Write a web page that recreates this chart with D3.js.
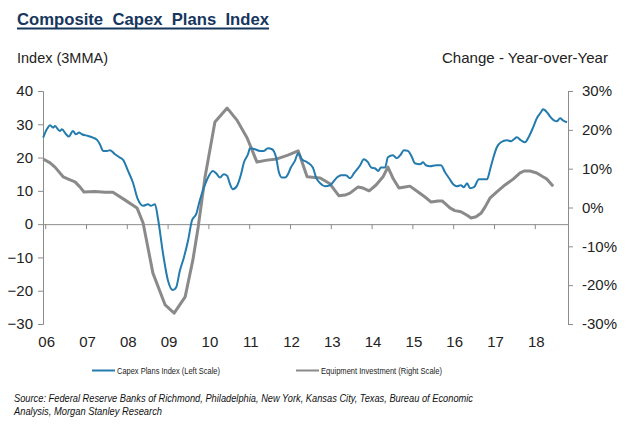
<!DOCTYPE html>
<html>
<head>
<meta charset="utf-8">
<script src="https://cdn.jsdelivr.net/npm/d3@7"></script>
<style>
  html, body { margin: 0; padding: 0; background: #fff; }
  svg { display: block; font-family: "Liberation Sans", Arial, sans-serif; }
</style>
</head>
<body>
<svg id="chart" width="629" height="424"></svg>
<script>
// ---- Data ----
const capexDates = [2005.95,2006.04,2006.12,2006.19,2006.24,2006.31,2006.36,2006.41,2006.51,2006.58,2006.68,2006.75,2006.83,2006.90,
  2007.05,2007.17,2007.27,2007.34,2007.42,2007.51,2007.59,2007.71,2007.83,2007.91,
  2008.03,2008.15,2008.27,2008.40,2008.52,2008.59,2008.69,2008.76,2008.89,
  2009.01,2009.13,2009.21,2009.30,2009.40,2009.50,2009.60,2009.70,2009.79,2009.89,2009.97,
  2010.11,2010.21,2010.28,2010.38,2010.46,2010.53,2010.60,2010.70,2010.80,2010.87,2010.97,
  2011.02,2011.14,2011.26,2011.36,2011.46,2011.56,2011.66,2011.73,2011.80,2011.88,2011.95,
  2012.02,2012.12,2012.20,2012.29,2012.42,2012.56,2012.64,2012.74,2012.86,2012.98,
  2013.15,2013.25,2013.37,2013.47,2013.57,2013.72,2013.81,2013.91,2013.99,
  2014.08,2014.16,2014.23,2014.33,2014.40,2014.52,2014.62,2014.72,2014.79,2014.89,2014.99,
  2015.06,2015.19,2015.26,2015.33,2015.43,2015.58,2015.70,2015.80,2015.90,
  2016.00,2016.09,2016.19,2016.26,2016.34,2016.41,2016.51,2016.63,2016.75,2016.83,2016.90,2016.98,
  2017.07,2017.17,2017.32,2017.42,2017.49,2017.56,2017.66,2017.76,2017.86,2017.96,
  2018.05,2018.15,2018.20,2018.30,2018.37,2018.47,2018.54,2018.62,2018.69,2018.79];
const capexValues = [26,28.5,29.7,29,29.5,28.5,28,28.5,27,26.3,28,27,27.5,27,
  26.5,26,25.3,24,22,22,22.2,21,20,19.3,
  16,12.5,7.5,5.5,6,5.5,6,2,-9,
  -17,-19.8,-19,-14,-10,-5,1.2,3,7.2,11,13.5,
  16,15,14,15,14.5,12,10.5,11.5,15,18.5,21,
  22.8,22.5,22,22,22.8,22.5,20,15.5,14,14,15,
  17,19,21.3,19.5,18.6,17,14,12.3,11.4,11.7,
  14,14.7,14.7,13.8,15.3,17.7,19.5,18.6,17,
  16.8,16,17,17,20.1,20.7,19.8,21,22.2,22,20.1,
  18.3,18,18.6,17.7,17.4,17.7,17.7,15.6,13.8,
  12,11.4,11.7,11.1,12.3,10.8,11.1,13.5,13.5,13.5,16.2,19.8,
  23.1,24.6,25.2,24.9,25.5,26.1,25.2,24.6,26.4,29.1,
  31.8,33.6,34.5,33.6,32.4,31.2,30.9,31.8,31.2,30.6];

const equipDates = [2005.95,2006.12,2006.24,2006.44,2006.61,2006.73,2006.85,2006.95,2007.22,2007.47,2007.66,2007.96,
  2008.25,2008.40,2008.64,2008.94,2009.16,2009.43,2009.62,2009.75,2009.92,2010.16,2010.46,2010.70,2010.95,
  2011.19,2011.44,2011.68,2011.95,2012.20,2012.42,2012.74,2012.98,2013.20,2013.35,2013.47,2013.67,2013.79,2013.94,
  2014.11,2014.28,2014.40,2014.52,2014.67,2014.82,2014.94,2015.14,2015.31,2015.46,2015.63,2015.73,2015.92,
  2016.04,2016.19,2016.34,2016.44,2016.56,2016.68,2016.78,2016.90,2017.07,2017.27,2017.47,2017.64,2017.74,2017.88,
  2018.05,2018.20,2018.30,2018.45];
const equipValues = [12.5,11.5,10.4,7.9,7.1,6.6,5.3,4.0,4.1,3.9,3.9,1.9,
  -0.1,-4,-16.9,-25.1,-27.2,-23,-13.5,-5,8,22,25.6,22.5,17.9,
  11.7,12.2,12.5,13.5,14.6,7.9,7.6,6.1,3.0,3.2,3.7,5.3,5.0,4.3,
  5.8,7.9,10.4,7.6,5.0,5.3,5.5,4.0,2.7,1.4,1.7,1.7,-0.1,
  -0.8,-1.1,-2.0,-2.7,-2.4,-1.5,0.1,2.4,4.0,5.8,7.3,8.9,9.4,9.4,
  8.9,7.9,7.3,5.5];

const yearTicks = [2006,2007,2008,2009,2010,2011,2012,2013,2014,2015,2016,2017,2018];
const yearLabels = ["06","07","08","09","10","11","12","13","14","15","16","17","18"];
const leftTicks = [40,30,20,10,0,-10,-20,-30];
const rightTicks = [30,20,10,0,-10,-20,-30];

const title = "Composite\u00A0 Capex\u00A0 Plans\u00A0 Index";
const leftAxisTitle = "Index (3MMA)";
const rightAxisTitle = "Change - Year-over-Year";
const legendNames = ["Capex Plans Index (Left Scale)", "Equipment Investment (Right Scale)"];
const sourceLines = ["Source: Federal Reserve Banks of Richmond, Philadelphia, New York, Kansas City, Texas, Bureau of Economic",
  "Analysis, Morgan Stanley Research"];

// ---- Drawing ----
const svg = d3.select("#chart");
const blue = "#237bae", grey = "#8a8a8a", axisCol = "#8c8c8c", textCol = "#222";
const L = 43, R = 568, T = 91, B = 324;

const x = d3.scaleLinear().domain([2005.946, 2018.814]).range([L, R]);
const yL = d3.scaleLinear().domain([-30, 40]).range([B, T]);
const yR = d3.scaleLinear().domain([-30, 30]).range([B, T]);

// Title
const t = svg.append("text").attr("x", 17).attr("y", 25)
  .attr("font-size", 17).attr("font-weight", "bold").attr("fill", "#17365d")
  .attr("textLength", 252).attr("lengthAdjust", "spacingAndGlyphs")
  .text(title);
svg.append("rect").attr("x", 17).attr("y", 27.5).attr("width", 252).attr("height", 2).attr("fill", "#17365d");

svg.append("text").attr("x", 17).attr("y", 63).attr("font-size", 15).attr("fill", textCol)
  .attr("textLength", 91).attr("lengthAdjust", "spacingAndGlyphs").text(leftAxisTitle);
svg.append("text").attr("x", 442).attr("y", 63).attr("font-size", 15).attr("fill", textCol)
  .attr("textLength", 166).attr("lengthAdjust", "spacingAndGlyphs").text(rightAxisTitle);

// Left axis
const la = svg.append("g").attr("transform", `translate(${L},0)`)
  .call(d3.axisLeft(yL).tickValues(leftTicks).tickSize(5).tickPadding(5).tickFormat(d3.format("d")));
// Right axis
const ra = svg.append("g").attr("transform", `translate(${R},0)`)
  .call(d3.axisRight(yR).tickValues(rightTicks).tickSize(5).tickPadding(9).tickFormat(d => d + "%"));
[la, ra].forEach(g => {
  g.select(".domain").attr("stroke", axisCol);
  g.selectAll(".tick line").attr("stroke", axisCol);
  g.selectAll(".tick text").attr("font-size", 15).attr("fill", textCol)
    .attr("font-family", '"Liberation Sans", Arial, sans-serif');
});

// X axis line at zero, with ticks
const xa = svg.append("g").attr("transform", `translate(0,${yL(0)})`)
  .call(d3.axisBottom(x).tickValues(yearTicks).tickSize(5).tickFormat(""));
xa.select(".domain").attr("stroke", axisCol).attr("d", `M${L},0.5H${R}`);
xa.selectAll(".tick line").attr("stroke", axisCol);

// X labels at bottom
svg.append("g").selectAll("text").data(yearTicks).join("text")
  .attr("x", d => x(d) + 1.5).attr("y", 347).attr("text-anchor", "middle")
  .attr("font-size", 15).attr("fill", textCol)
  .text((d, i) => yearLabels[i]);

// Lines
const equip = equipDates.map((d, i) => [d, equipValues[i]]);
const capex = capexDates.map((d, i) => [d, capexValues[i]]);

svg.append("path").datum(equip)
  .attr("fill", "none").attr("stroke", grey).attr("stroke-width", 3).attr("stroke-linejoin", "round")
  .attr("d", d3.line().x(d => x(d[0])).y(d => yR(d[1])));
svg.append("path").datum(capex)
  .attr("fill", "none").attr("stroke", blue).attr("stroke-width", 2).attr("stroke-linejoin", "round")
  .attr("d", d3.line().x(d => x(d[0])).y(d => yL(d[1])).curve(d3.curveMonotoneX));

// Legend
const leg = [{x: 92, c: blue, w: 2, tl: 103}, {x: 296, c: grey, w: 2, tl: 121}];
leg.forEach((l, i) => {
  svg.append("line").attr("x1", l.x).attr("x2", l.x + 23).attr("y1", 370.5).attr("y2", 370.5)
    .attr("stroke", l.c).attr("stroke-width", l.w);
  svg.append("text").attr("x", l.x + 25).attr("y", 374).attr("font-size", 9).attr("fill", textCol)
    .attr("textLength", l.tl).attr("lengthAdjust", "spacingAndGlyphs")
    .text(legendNames[i]);
});

// Source
svg.append("text").attr("x", 14).attr("y", 402).attr("font-size", 11.5).attr("font-style", "italic")
  .attr("fill", "#111").attr("textLength", 459).attr("lengthAdjust", "spacingAndGlyphs").text(sourceLines[0]);
svg.append("text").attr("x", 14).attr("y", 415).attr("font-size", 11.5).attr("font-style", "italic")
  .attr("fill", "#111").attr("textLength", 148).attr("lengthAdjust", "spacingAndGlyphs").text(sourceLines[1]);
</script>
</body>
</html>
